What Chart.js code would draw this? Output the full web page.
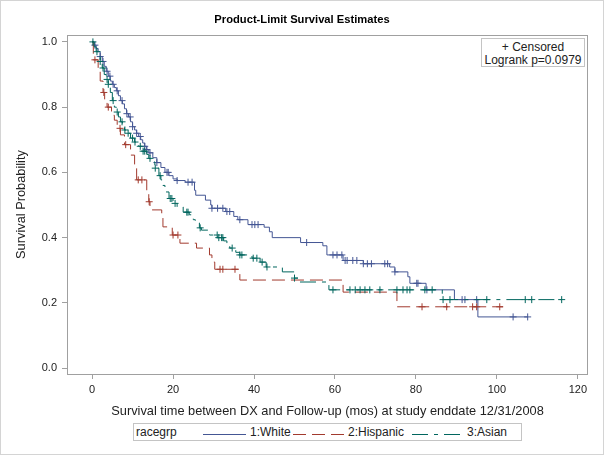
<!DOCTYPE html>
<html>
<head>
<meta charset="utf-8">
<script src="https://cdn.jsdelivr.net/npm/chart.js@4.4.1/dist/chart.umd.min.js"></script>
<style>
    html, body { margin: 0; padding: 0; background: #fff; }
    #wrap { position: relative; width: 604px; height: 455px; font-family: "Liberation Sans", Arial, sans-serif; color: #222; }
    #outer { position: absolute; left: 0; top: 0; width: 602px; height: 453px; border: 1px solid #d4d4d4; pointer-events: none; }
    .box { position: absolute; border: 1px solid #c4c4c4; background: #fff; box-sizing: border-box; }
    .lbl { position: absolute; font-size: 12px; line-height: 15px; white-space: nowrap; }
    .smp { position: absolute; }
</style>
</head>
<body>
<div id="wrap">
    <canvas id="km"></canvas>
    <div class="box" id="inset" style="left:481px;top:38px;width:104px;height:29px;text-align:center;font-size:12px;line-height:13px;padding-top:2px;">
        + Censored<br>Logrank p=0.0979
    </div>
    <div class="box" style="left:133px;top:423px;width:389px;height:18px;"></div>
    <span class="lbl" style="left:136px;top:425px;">racegrp</span>
    <svg class="smp" style="left:203px;top:428px;" width="43" height="12"><line x1="0" y1="6.5" x2="43" y2="6.5" stroke="#445694" stroke-width="1"/></svg>
    <span class="lbl" style="left:250px;top:425px;">1:White</span>
    <svg class="smp" style="left:293px;top:428px;" width="51" height="12"><line x1="0" y1="6.5" x2="51" y2="6.5" stroke="#A23A2E" stroke-width="1" stroke-dasharray="13,6"/></svg>
    <span class="lbl" style="left:348px;top:425px;">2:Hispanic</span>
    <svg class="smp" style="left:412px;top:428px;" width="52" height="12"><line x1="0" y1="6.5" x2="52" y2="6.5" stroke="#01665E" stroke-width="1" stroke-dasharray="16,6,4,6"/></svg>
    <span class="lbl" style="left:467px;top:425px;">3:Asian</span>
    <div id="outer"></div>
</div>
<script>
    'use strict';

    // Kaplan-Meier steps: time (mos) and survival after each step
    const WHITE_T = [0, 0.5, 1, 1.5, 2, 2.5, 3, 3.5, 4, 4.5, 5, 5.5, 6, 6.5, 7, 7.5, 8, 8.5, 9, 9.5,
        10, 10.5, 11, 11.5, 12, 12.5, 13, 13.5, 14, 15, 16, 17, 18, 19, 20, 21, 23, 25.3, 25.6, 28,
        29.3, 29.6, 33, 35, 36, 38.5, 42.5, 43.8, 44.5, 51.5, 57, 58, 62, 67, 73.5, 74.8, 78, 78.5, 82.5, 89.5,
        95.3, 107.6];
    const WHITE_S = [1, 0.99, 0.98, 0.97, 0.955, 0.94, 0.925, 0.91, 0.895, 0.88, 0.87, 0.86, 0.85, 0.835, 0.82, 0.81, 0.795, 0.78, 0.77, 0.755,
        0.74, 0.73, 0.72, 0.71, 0.70, 0.69, 0.68, 0.67, 0.66, 0.645, 0.63, 0.615, 0.60, 0.59, 0.58, 0.575, 0.57, 0.545, 0.53, 0.515,
        0.50, 0.49, 0.48, 0.465, 0.455, 0.44, 0.432, 0.418, 0.40, 0.385, 0.375, 0.347, 0.33, 0.32, 0.31, 0.295, 0.28, 0.26, 0.24, 0.21,
        0.157, 0.157];
    const WHITE_C = [0.7, 2, 2.7, 3.7, 4.4, 5.2, 6.2, 7.4, 8.6, 9.4, 10, 11, 11.9, 13, 13.5, 14.3, 16, 18.5, 18.8, 21,
        23.7, 24.7, 29.6, 31, 32.3, 33.3, 34, 36.5, 39.5, 40.2, 41, 53, 59.5, 60.5, 61.7, 62.5, 63, 64.4, 65.4, 67,
        68, 69, 72.3, 73, 74.8, 80.2, 80.5, 82.7, 91.4, 92.1, 95, 104, 107.6];

    const HISP_T = [0, 0.3, 1.5, 2, 2.7, 3.1, 3.7, 4.8, 5.5, 6.2, 7, 8, 9.5, 10.5, 11, 13.5, 14, 14.3, 17.2, 17.5,
        19.8, 21.7, 25.8, 29, 29.6, 30.3, 36.5, 62, 75.3, 101.5];
    const HISP_S = [1, 0.945, 0.91, 0.88, 0.845, 0.82, 0.80, 0.775, 0.76, 0.735, 0.715, 0.685, 0.653, 0.62, 0.577, 0.54, 0.51, 0.485, 0.46, 0.433,
        0.408, 0.383, 0.368, 0.347, 0.325, 0.303, 0.27, 0.233, 0.188, 0.188];
    const HISP_C = [0.7, 2.9, 4, 6.9, 8.3, 11.4, 12.3, 14.1, 20, 21.2, 31.6, 32.3, 35.3, 81.5, 87.6, 94, 95, 100.7];

    const ASIAN_T = [0, 0.5, 1, 1.5, 2, 2.5, 3, 3.5, 4, 4.5, 5, 5.5, 6, 6.5, 7, 7.5, 8, 8.5, 9.5, 10.5,
        11.5, 12.5, 13.5, 14, 14.5, 15.5, 16.5, 17, 17.5, 18, 19, 20, 21, 22.5, 24, 25, 25.5, 26.5, 27, 29,
        31, 32.5, 33.3, 34, 35.5, 36.5, 39.5, 41.5, 43, 47, 50, 51, 58.5, 86.5, 116];
    const ASIAN_S = [1, 0.985, 0.97, 0.955, 0.94, 0.92, 0.90, 0.885, 0.87, 0.845, 0.82, 0.80, 0.785, 0.77, 0.755, 0.745, 0.73, 0.72, 0.705, 0.693,
        0.68, 0.665, 0.655, 0.643, 0.632, 0.613, 0.59, 0.577, 0.56, 0.54, 0.52, 0.505, 0.494, 0.478, 0.47, 0.455, 0.445, 0.43, 0.423, 0.408,
        0.40, 0.39, 0.377, 0.368, 0.355, 0.347, 0.337, 0.325, 0.31, 0.295, 0.276, 0.264, 0.24, 0.21, 0.21];
    const ASIAN_C = [0.2, 1.2, 2, 2.7, 3.7, 4, 5.2, 6.2, 7.4, 8.1, 8.9, 10, 10.6, 11.9, 12.6, 13, 14.3, 15.6, 16.8, 19.3,
        19.7, 20.5, 23.4, 23.7, 26.7, 30.9, 31.3, 32, 32.3, 34.6, 36.5, 37, 39.8, 40.7, 42, 43.2, 50, 59.5, 63.7, 65,
        66.2, 67.4, 68.6, 71.1, 75.3, 76.8, 77.8, 78.5, 82.2, 84, 86.7, 88.4, 97.5, 107, 108.6, 116];

    const X_TICKS = [0, 20, 40, 60, 80, 100, 120];
    const Y_TICKS = [0, 0.2, 0.4, 0.6, 0.8, 1.0];

    const BLUE = '#445694';
    const RED = '#A23A2E';
    const GREEN = '#01665E';
    const FONT = '"Liberation Sans", Arial, sans-serif';
    const TEXT = '#222';
    const AXIS = '#a0a0a0';

    function stepAt(ts, ss, t) {
        let v = ss[0];
        for (let i = 0; i < ts.length; i++) {
            if (ts[i] <= t) v = ss[i];
        }
        return v;
    }

    function lineSet(ts, ss, color, dash) {
        return {
            data: ts.map((t, i) => ({ x: t, y: ss[i] })),
            showLine: true,
            stepped: 'before',
            borderColor: color,
            borderWidth: 1,
            borderDash: dash,
            pointRadius: 0,
            fill: false
        };
    }

    function censorSet(ts, ss, cs, color) {
        return {
            data: cs.map(c => ({ x: c, y: stepAt(ts, ss, c) })),
            showLine: false,
            pointStyle: 'cross',
            pointRadius: 3.5,
            borderColor: color,
            backgroundColor: color,
            borderWidth: 1
        };
    }

    // plot frame on all four sides
    const framePlugin = {
        id: 'frame',
        beforeDatasetsDraw(chart) {
            const a = chart.chartArea;
            const ctx = chart.ctx;
            ctx.save();
            ctx.strokeStyle = AXIS;
            ctx.lineWidth = 1;
            ctx.strokeRect(Math.round(a.left) + 0.5, Math.round(a.top) + 0.5,
                Math.round(a.right - a.left) - 1, Math.round(a.bottom - a.top));
            ctx.restore();
        }
    };

    new Chart(document.getElementById('km'), {
        type: 'scatter',
        data: {
            datasets: [
                censorSet(ASIAN_T, ASIAN_S, ASIAN_C, GREEN),
                lineSet(ASIAN_T, ASIAN_S, GREEN, [16, 6, 4, 6]),
                censorSet(HISP_T, HISP_S, HISP_C, RED),
                lineSet(HISP_T, HISP_S, RED, [13, 6]),
                censorSet(WHITE_T, WHITE_S, WHITE_C, BLUE),
                lineSet(WHITE_T, WHITE_S, BLUE, [])
            ]
        },
        options: {
            responsive: true,
            maintainAspectRatio: false,
            animation: false,
            layout: { padding: 0 },
            plugins: {
                legend: { display: false },
                tooltip: { enabled: false },
                title: {
                    display: true,
                    text: 'Product-Limit Survival Estimates',
                    color: '#000',
                    font: { family: FONT, size: 11.2, weight: 'bold' },
                    padding: { top: 13.5, bottom: 8.1 }
                }
            },
            scales: {
                x: {
                    type: 'linear',
                    min: -6.2,
                    max: 122.5,
                    afterBuildTicks(s) { s.ticks = X_TICKS.map(v => ({ value: v })); },
                    afterFit(s) { s.height = 81; },
                    ticks: { color: TEXT, font: { family: FONT, size: 11 }, padding: 4 },
                    grid: { drawOnChartArea: false, tickLength: 5, color: AXIS },
                    border: { display: false },
                    title: {
                        display: true,
                        text: 'Survival time between DX and Follow-up (mos) at study enddate 12/31/2008',
                        color: TEXT,
                        font: { family: FONT, size: 12.8 },
                        padding: { top: 0, bottom: 36.3 }
                    }
                },
                y: {
                    min: -0.018,
                    max: 1.021,
                    afterBuildTicks(s) { s.ticks = Y_TICKS.map(v => ({ value: v })); },
                    afterFit(s) { s.width = 67; },
                    ticks: { color: TEXT, font: { family: FONT, size: 11 }, padding: 5, callback: v => v.toFixed(1) },
                    grid: { drawOnChartArea: false, tickLength: 5, color: AXIS },
                    border: { display: false },
                    title: {
                        display: true,
                        text: 'Survival Probability',
                        color: TEXT,
                        font: { family: FONT, size: 12.8 },
                        padding: { top: 14, bottom: 0 }
                    }
                },
                yr: {
                    position: 'right',
                    min: 0,
                    max: 1,
                    afterFit(s) { s.width = 16; },
                    ticks: { display: false },
                    grid: { display: false },
                    border: { display: false }
                }
            }
        },
        plugins: [framePlugin]
    });
</script>
</body>
</html>
